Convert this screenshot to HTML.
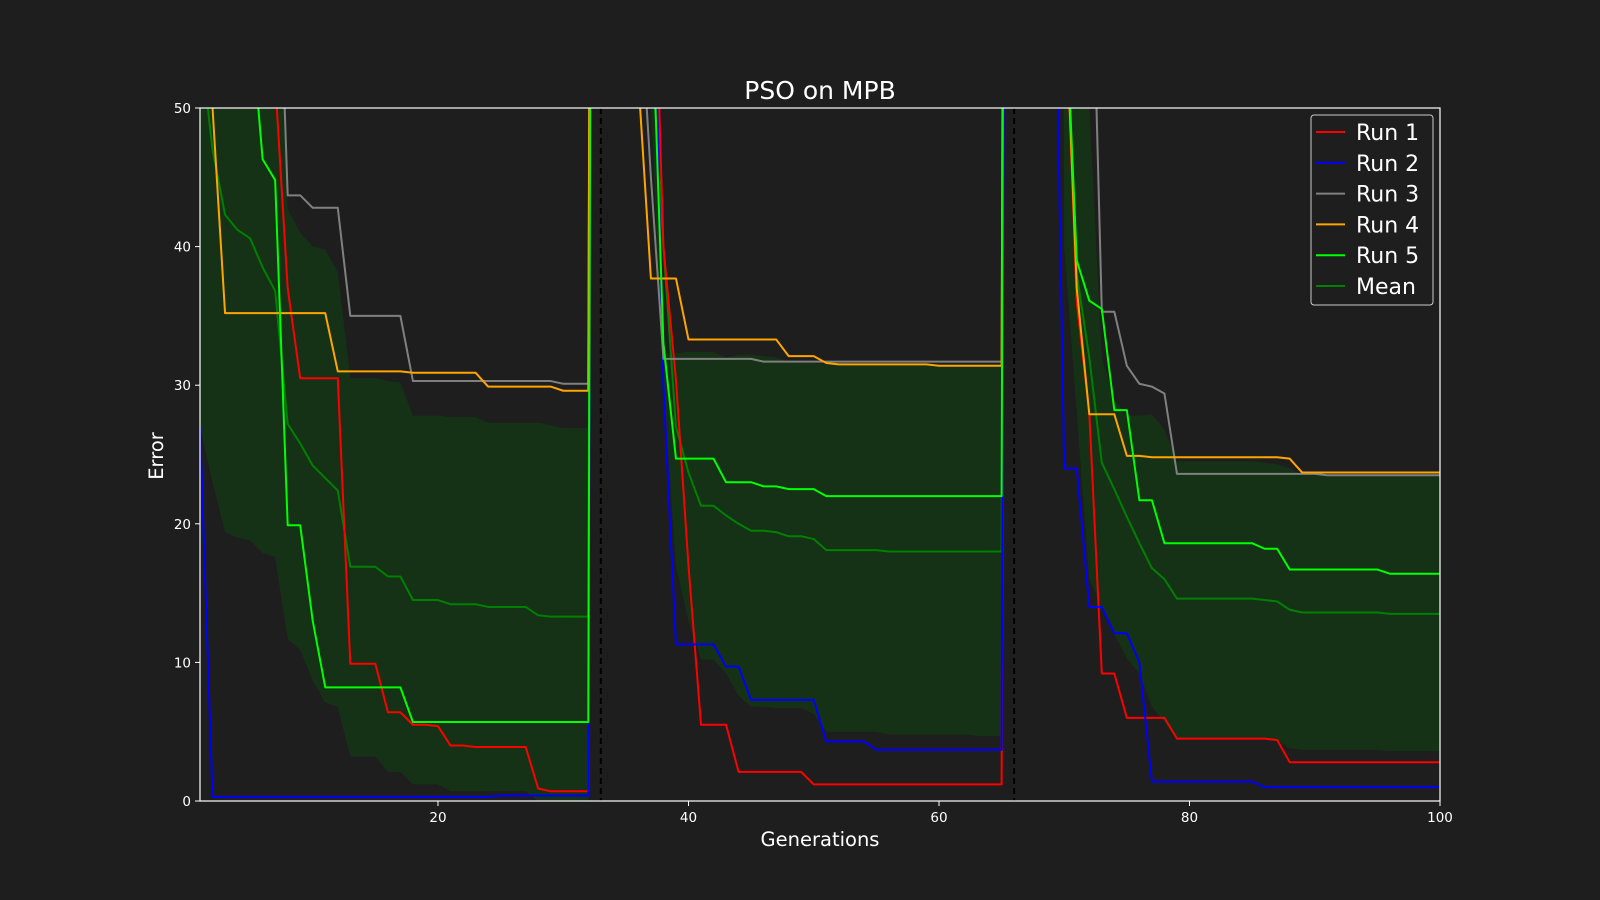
<!DOCTYPE html>
<html><head><meta charset="utf-8">
<style>
html,body{margin:0;padding:0;background:#1e1e1e;}
svg{display:block;font-family:"DejaVu Sans","Liberation Sans",sans-serif;}
</style></head>
<body>
<svg id="chart" width="1600" height="900" xmlns="http://www.w3.org/2000/svg">
<rect width="1600" height="900" fill="#1e1e1e"/>
<defs><clipPath id="plotclip"><rect x="200" y="108" width="1240" height="693"/></clipPath></defs>
<text x="820" y="99" fill="#ffffff" font-size="25" text-anchor="middle">PSO on MPB</text>
<g id="band" clip-path="url(#plotclip)"></g>
<g id="lines" clip-path="url(#plotclip)"></g>
<g id="axes"></g>
<text x="820" y="846" fill="#ffffff" font-size="19.5" text-anchor="middle">Generations</text>
<text x="0" y="0" transform="translate(163,456) rotate(-90)" fill="#ffffff" font-size="19.5" text-anchor="middle">Error</text>
<g id="legend"></g>
</svg>
<script>
const H = 300;
const generations = Array.from({length:100},(_,i)=>i+1);
const run1 = [
 80,80,80,80,80,80,52,37,30.5,30.5,
 30.5,30.5,9.9,9.9,9.9,6.4,6.4,5.5,5.5,5.4,
 4.0,4.0,3.9,3.9,3.9,3.9,3.9,0.9,0.7,0.7,
 0.7,0.7,H,H,H,H,70,40,30.4,17,
 5.5,5.5,5.5,2.1,2.1,2.1,2.1,2.1,2.1,1.2,
 1.2,1.2,1.2,1.2,1.2,1.2,1.2,1.2,1.2,1.2,
 1.2,1.2,1.2,1.2,1.2,H,H,H,H,60,
 36,28,9.2,9.2,6.0,6.0,6.0,6.0,4.5,4.5,
 4.5,4.5,4.5,4.5,4.5,4.5,4.4,2.8,2.8,2.8,
 2.8,2.8,2.8,2.8,2.8,2.8,2.8,2.8,2.8,2.8];
const run2 = [
 27,0.3,0.3,0.3,0.3,0.3,0.3,0.3,0.3,0.3,
 0.3,0.3,0.3,0.3,0.3,0.3,0.3,0.3,0.3,0.3,
 0.3,0.3,0.3,0.3,0.4,0.4,0.4,0.4,0.4,0.4,
 0.4,0.4,H,H,H,H,70,30,11.3,11.3,
 11.3,11.3,9.7,9.7,7.3,7.3,7.3,7.3,7.3,7.3,
 4.3,4.3,4.3,4.3,3.7,3.7,3.7,3.7,3.7,3.7,
 3.7,3.7,3.7,3.7,3.7,H,H,H,76,24,
 24,14,14,12.1,12.1,10,1.4,1.4,1.4,1.4,
 1.4,1.4,1.4,1.4,1.4,1.0,1.0,1.0,1.0,1.0,
 1.0,1.0,1.0,1.0,1.0,1.0,1.0,1.0,1.0,1.0];
const run3 = [
 90,90,90,90,90,90,70,43.7,43.7,42.8,
 42.8,42.8,35,35,35,35,35,30.3,30.3,30.3,
 30.3,30.3,30.3,30.3,30.3,30.3,30.3,30.3,30.3,30.1,
 30.1,30.1,H,H,H,60,45,31.9,31.9,31.9,
 31.9,31.9,31.9,31.9,31.9,31.7,31.7,31.7,31.7,31.7,
 31.7,31.7,31.7,31.7,31.7,31.7,31.7,31.7,31.7,31.7,
 31.7,31.7,31.7,31.7,31.7,H,H,H,H,90,
 90,70,35.3,35.3,31.4,30.1,29.9,29.4,23.6,23.6,
 23.6,23.6,23.6,23.6,23.6,23.6,23.6,23.6,23.6,23.6,
 23.5,23.5,23.5,23.5,23.5,23.5,23.5,23.5,23.5,23.5];
const run4 = [
 70,50,35.2,35.2,35.2,35.2,35.2,35.2,35.2,35.2,
 35.2,31,31,31,31,31,31,30.9,30.9,30.9,
 30.9,30.9,30.9,29.9,29.9,29.9,29.9,29.9,29.9,29.6,
 29.6,29.6,H,H,H,52,37.7,37.7,37.7,33.3,
 33.3,33.3,33.3,33.3,33.3,33.3,33.3,32.1,32.1,32.1,
 31.6,31.5,31.5,31.5,31.5,31.5,31.5,31.5,31.5,31.4,
 31.4,31.4,31.4,31.4,31.4,H,H,H,H,60,
 37,27.9,27.9,27.9,24.9,24.9,24.8,24.8,24.8,24.8,
 24.8,24.8,24.8,24.8,24.8,24.8,24.8,24.7,23.7,23.7,
 23.7,23.7,23.7,23.7,23.7,23.7,23.7,23.7,23.7,23.7];
const run5 = [
 80,80,80,80,57,46.3,44.8,19.9,19.9,13,
 8.2,8.2,8.2,8.2,8.2,8.2,8.2,5.7,5.7,5.7,
 5.7,5.7,5.7,5.7,5.7,5.7,5.7,5.7,5.7,5.7,
 5.7,5.7,H,H,H,H,60,33,24.7,24.7,
 24.7,24.7,23.0,23.0,23.0,22.7,22.7,22.5,22.5,22.5,
 22.0,22.0,22.0,22.0,22.0,22.0,22.0,22.0,22.0,22.0,
 22.0,22.0,22.0,22.0,22.0,H,H,H,H,60,
 39,36.1,35.5,28.2,28.2,21.7,21.7,18.6,18.6,18.6,
 18.6,18.6,18.6,18.6,18.6,18.2,18.2,16.7,16.7,16.7,
 16.7,16.7,16.7,16.7,16.7,16.4,16.4,16.4,16.4,16.4];
const meanVals = [
 55,47,42.3,41.2,40.6,38.5,36.8,27.2,25.8,24.2,
 23.3,22.4,16.9,16.9,16.9,16.2,16.2,14.5,14.5,14.5,
 14.2,14.2,14.2,14.0,14.0,14.0,14.0,13.4,13.3,13.3,
 13.3,13.3,H,H,H,H,55,40,27,23.7,
 21.3,21.3,20.6,20.0,19.5,19.5,19.4,19.1,19.1,18.9,
 18.1,18.1,18.1,18.1,18.1,18.0,18.0,18.0,18.0,18.0,
 18.0,18.0,18.0,18.0,18.0,H,H,H,H,60,
 38,32,24.4,22.5,20.5,18.6,16.8,16.0,14.6,14.6,
 14.6,14.6,14.6,14.6,14.6,14.5,14.4,13.8,13.6,13.6,
 13.6,13.6,13.6,13.6,13.6,13.5,13.5,13.5,13.5,13.5];
const bandUpper = [
 90,90,90,90,90,90,90,42.7,41,40,
 39.8,38.2,30.5,30.5,30.5,30.3,30.2,27.8,27.8,27.8,
 27.7,27.7,27.7,27.3,27.3,27.3,27.3,27.3,27.1,26.9,
 26.9,26.9,H,H,H,H,60,32.3,32.3,32.4,
 32.4,32.4,32.0,32.2,32.2,32.1,32.0,31.7,31.6,31.6,
 31.5,31.5,31.5,31.5,31.5,31.5,31.5,31.5,31.5,31.5,
 31.5,31.5,31.5,31.5,31.5,H,H,H,H,80,
 60,50,32,29,27.8,27.8,27.9,26.8,24.5,24.5,
 24.5,24.5,24.5,24.5,24.5,24.4,24.3,24.0,23.5,23.5,
 23.5,23.5,23.5,23.5,23.5,23.5,23.5,23.5,23.5,23.5];
const bandLower = [
 27,23,19.4,19,18.8,17.9,17.6,11.7,10.9,8.7,
 7.1,6.8,3.2,3.2,3.2,2.1,2.1,1.2,1.2,1.2,
 0.7,0.7,0.7,0.7,0.7,0.7,0.7,0,0,0,
 0,0,H,H,H,H,50,30,17,13,
 10.2,10.2,9.2,7.6,6.8,6.8,6.7,6.7,6.7,6.3,
 5.0,5.0,5.0,5.0,5.0,4.8,4.8,4.8,4.8,4.8,
 4.8,4.8,4.7,4.7,4.7,H,H,H,H,40,
 28,16,14,12,10.3,9.2,6.8,5.7,4.5,4.5,
 4.5,4.5,4.5,4.5,4.5,4.5,4.4,3.8,3.7,3.7,
 3.7,3.7,3.7,3.7,3.7,3.6,3.6,3.6,3.6,3.6];
const changePoints = [33,66];
const xTicks = [20,40,60,80,100];
const yTicks = [0,10,20,30,40,50];
const seriesNames = ["Run 1","Run 2","Run 3","Run 4","Run 5","Mean"];

const X0=200,X1=1440,Y0=801,Y1=108;
const xs = g => X0 + (g-1)/(99)*(X1-X0);
const ys = v => Y0 - v/50*(Y0-Y1);
const NS="http://www.w3.org/2000/svg";
function mk(tag, parent){const e=document.createElementNS(NS,tag);parent.appendChild(e);return e;}

const bandG=document.getElementById('band');
let d='';
generations.forEach((g,i)=>{d+=(i?'L':'M')+xs(g).toFixed(2)+','+ys(bandUpper[i]).toFixed(2);});
for(let i=generations.length-1;i>=0;i--){d+='L'+xs(generations[i]).toFixed(2)+','+ys(bandLower[i]).toFixed(2);}
const bp=mk('path',bandG);
bp.setAttribute('d',d+'Z');bp.setAttribute('fill','#153216');



const linesG=document.getElementById('lines');
const series=[[run1,'#ff0000'],[run2,'#0000ff'],[run3,'#808080'],[run4,'#ffa500'],[run5,'#00ff00'],[meanVals,'#008000']];
const order=[5,0,1,2,3,4];
order.forEach(k=>{
  const [vals,col]=series[k];
  let p='';
  generations.forEach((g,i)=>{p+=(i?'L':'M')+xs(g).toFixed(2)+','+ys(vals[i]).toFixed(2);});
  const e=mk('path',linesG);
  e.setAttribute('d',p);e.setAttribute('fill','none');e.setAttribute('stroke',col);
  e.setAttribute('stroke-width','2');e.setAttribute('stroke-linejoin','round');
  
  
});
changePoints.forEach(c=>{
  const e=mk('line',linesG);
  e.setAttribute('x1',xs(c));e.setAttribute('x2',xs(c));e.setAttribute('y1',Y1);e.setAttribute('y2',Y0);
  e.setAttribute('stroke','#000000');e.setAttribute('stroke-width','2');e.setAttribute('stroke-dasharray','6,4');
  
  
});

const ax=document.getElementById('axes');
const fr=mk('rect',ax);
fr.setAttribute('x',X0);fr.setAttribute('y',Y1);fr.setAttribute('width',X1-X0);fr.setAttribute('height',Y0-Y1);
fr.setAttribute('fill','none');fr.setAttribute('stroke','#ffffff');fr.setAttribute('stroke-width','1.2');


xTicks.forEach(t=>{
  const l=mk('line',ax);l.setAttribute('x1',xs(t));l.setAttribute('x2',xs(t));l.setAttribute('y1',Y0);l.setAttribute('y2',Y0+5);l.setAttribute('stroke','#fff');
  
  
  const tx=mk('text',ax);tx.setAttribute('x',xs(t));tx.setAttribute('y',Y0+21);tx.setAttribute('fill','#fff');tx.setAttribute('font-size','13.5');tx.setAttribute('text-anchor','middle');tx.textContent=t;
  
  
});
yTicks.forEach(t=>{
  const l=mk('line',ax);l.setAttribute('x1',X0-5);l.setAttribute('x2',X0);l.setAttribute('y1',ys(t));l.setAttribute('y2',ys(t));l.setAttribute('stroke','#fff');
  
  
  const tx=mk('text',ax);tx.setAttribute('x',X0-9);tx.setAttribute('y',ys(t)+5);tx.setAttribute('fill','#fff');tx.setAttribute('font-size','13.5');tx.setAttribute('text-anchor','end');tx.textContent=t;
  
  
});

const lg=document.getElementById('legend');
const box=mk('rect',lg);
box.setAttribute('x',1311);box.setAttribute('y',115);box.setAttribute('width',122);box.setAttribute('height',190);box.setAttribute('rx',3);
box.setAttribute('fill','#1e1e1e');box.setAttribute('stroke','#cccccc');box.setAttribute('stroke-width','1');


const legCols=['#ff0000','#0000ff','#808080','#ffa500','#00ff00','#008000'];
seriesNames.forEach((n,i)=>{
  const y=132+i*30.8;
  const l=mk('line',lg);l.setAttribute('x1',1316);l.setAttribute('x2',1345);l.setAttribute('y1',y);l.setAttribute('y2',y);l.setAttribute('stroke',legCols[i]);l.setAttribute('stroke-width','2');
  
  
  const t=mk('text',lg);t.setAttribute('x',1356);t.setAttribute('y',y+8);t.setAttribute('fill','#fff');t.setAttribute('font-size','22');t.textContent=n;
  
  
});
</script>
</body></html>
